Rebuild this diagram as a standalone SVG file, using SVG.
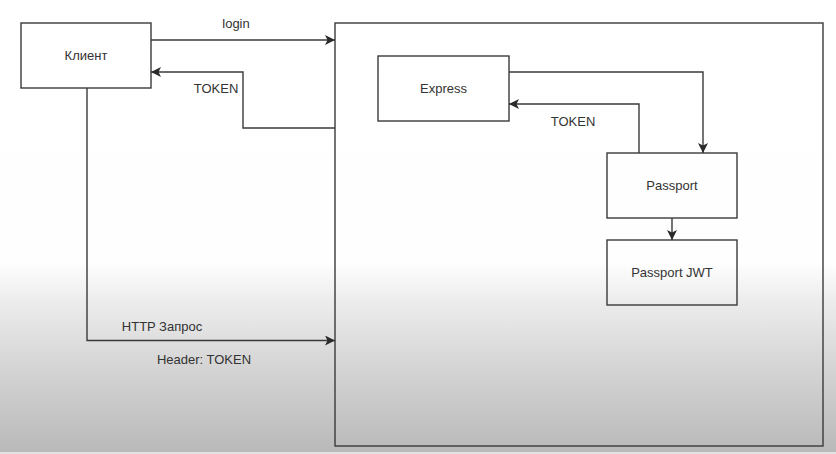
<svg xmlns="http://www.w3.org/2000/svg" width="836" height="454" viewBox="0 0 836 454">
<defs>
<linearGradient id="bg" x1="0" y1="0" x2="0" y2="454" gradientUnits="userSpaceOnUse">
<stop offset="0" stop-color="#ffffff"/>
<stop offset="0.58" stop-color="#fefefe"/>
<stop offset="0.66" stop-color="#ededed"/>
<stop offset="0.8" stop-color="#d6d6d6"/>
<stop offset="0.995" stop-color="#b9b9b9"/>
<stop offset="0.996" stop-color="#e2e2e2"/>
<stop offset="1" stop-color="#e2e2e2"/>
</linearGradient>
<marker id="arr" viewBox="0 0 10 10" refX="10" refY="5" markerWidth="10" markerHeight="10" markerUnits="userSpaceOnUse" orient="auto">
<path d="M0,0 L10,5 L0,10 L2.5,5 Z" fill="#2a2a2a"/>
</marker>
<style>
.box{fill:none;stroke:#3a3a3a;stroke-width:1.4}
.ln{fill:none;stroke:#3a3a3a;stroke-width:1.4}
text{font-family:"Liberation Sans",Arial,sans-serif;font-size:13px;fill:#333}
.c{text-anchor:middle}
</style>
</defs>
<rect width="836" height="454" fill="url(#bg)"/>
<g id="container"><rect class="box" x="335" y="23" width="488" height="423"/></g>
<g id="client"><rect class="box" x="21" y="23" width="130" height="65"/><text class="c" x="86" y="60">Клиент</text></g>
<g id="express"><rect class="box" x="378" y="56" width="131" height="65"/><text class="c" x="443.5" y="93">Express</text></g>
<g id="passport"><rect class="box" x="607" y="153" width="130" height="65"/><text class="c" x="672" y="190">Passport</text></g>
<g id="passport-jwt"><rect class="box" x="607" y="240" width="130" height="65"/><text class="c" x="672" y="277">Passport JWT</text></g>
<g id="connectors">
<path class="ln" d="M151,40 H335" marker-end="url(#arr)"/>
<path class="ln" d="M335,128 H243 V72 H151" marker-end="url(#arr)"/>
<path class="ln" d="M87,88 V340.5 H335" marker-end="url(#arr)"/>
<path class="ln" d="M509,72 H703 V153" marker-end="url(#arr)"/>
<path class="ln" d="M639,153 V104 H509" marker-end="url(#arr)"/>
<path class="ln" d="M672,218 V240" marker-end="url(#arr)"/>
<text class="c" x="236" y="28">login</text>
<text class="c" x="216" y="93">TOKEN</text>
<text class="c" x="573" y="126">TOKEN</text>
<text class="c" x="162" y="331">HTTP Запрос</text>
<text class="c" x="204" y="364">Header: TOKEN</text>
</g>
</svg>
